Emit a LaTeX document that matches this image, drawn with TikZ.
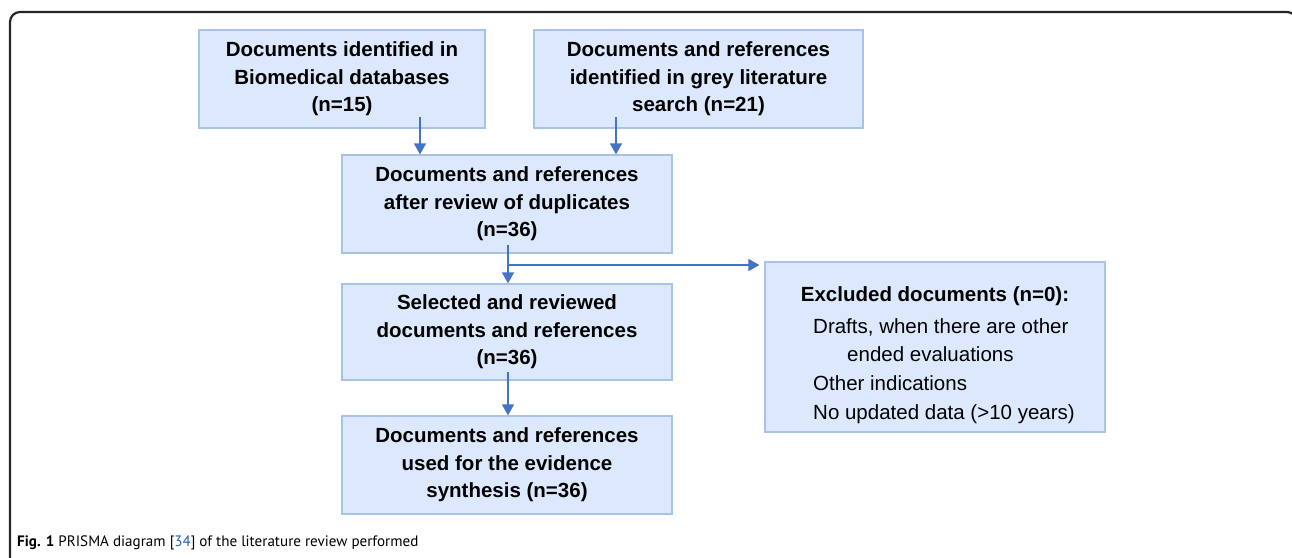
\documentclass[tikz,border=0pt]{standalone}
\usepackage{fontspec}
\setmainfont{Liberation Sans}
\newfontfamily\capfont{PT Sans}
\usetikzlibrary{arrows.meta}
\definecolor{boxfill}{HTML}{DCE8FB}
\definecolor{boxline}{HTML}{A9C2E8}
\definecolor{flowblue}{HTML}{4472C4}
\definecolor{citeblue}{HTML}{2A5DB8}

\begin{document}
\begin{tikzpicture}[x=1pt, y=-1pt,
    box/.style={draw=boxline, fill=boxfill, line width=1.2pt, align=center, inner sep=0pt,
        font=\fontsize{20.5}{27.5}\selectfont\bfseries},
    listtext/.style={align=left, inner sep=0pt, font=\fontsize{20.5}{28.7}\selectfont},
    flow/.style={draw=flowblue, line width=1.4pt, -{Triangle[length=11pt,width=12pt]}}]
    \useasboundingbox (0,0) rectangle (1292,557);

    % --- Outer frame ---
    \draw[line width=2.2pt, black!85, rounded corners=10pt] (10,600) -- (10,12) -- (1297,12) -- (1297,600);

    % --- Identification ---
    \node[box, minimum width=286pt, minimum height=98pt] (biomed) at (342,79)
        {Documents identified in\\Biomedical databases\\(n=15)};
    \node[box, minimum width=329pt, minimum height=98pt] (grey) at (698.5,79)
        {Documents and references\\identified in grey literature\\search (n=21)};

    % --- Screening ---
    \node[box, minimum width=330pt, minimum height=98pt] (dedup) at (507,204)
        {Documents and references\\after review of duplicates\\(n=36)};
    \node[box, minimum width=330pt, minimum height=96pt] (selected) at (507,332)
        {Selected and reviewed\\documents and references\\(n=36)};
    \node[box, minimum width=330pt, minimum height=98pt] (used) at (507,465)
        {Documents and references\\used for the evidence\\synthesis (n=36)};

    % --- Exclusions ---
    \node[box, minimum width=340pt, minimum height=170pt] (excl) at (935,347) {};
    \node[box, draw=none, fill=none] (exclhead) at (935,296) {Excluded documents (n=0):};
    \node[listtext, anchor=north west] (excllist) at (813,318)
        {Drafts, when there are other\\\hspace*{34pt}ended evaluations\\Other indications\\No updated data (>10 years)};

    % --- Connectors ---
    \coordinate (biomedout) at (420,117);
    \coordinate (greyout) at (616,117);
    \coordinate (dedupout) at (508,245);
    \coordinate (split) at (508,265);
    \coordinate (selout) at (508,372);
    \draw[flow] (biomedout) -- (biomedout |- dedup.north);
    \draw[flow] (greyout) -- (greyout |- dedup.north);
    \draw[flow] (dedupout) -- (dedupout |- selected.north);
    \draw[flow, shorten >=5pt] (split) -- (split -| excl.west);
    \draw[flow] (selout) -- (selout |- used.north);

    % --- Caption ---
    \node[anchor=base west, inner sep=0pt, font=\capfont\fontsize{15.1}{18}\selectfont] (caption) at (17,546)
        {\textbf{Fig. 1} PRISMA diagram [\textcolor{citeblue}{34}] of the literature review performed};
\end{tikzpicture}
\end{document}
